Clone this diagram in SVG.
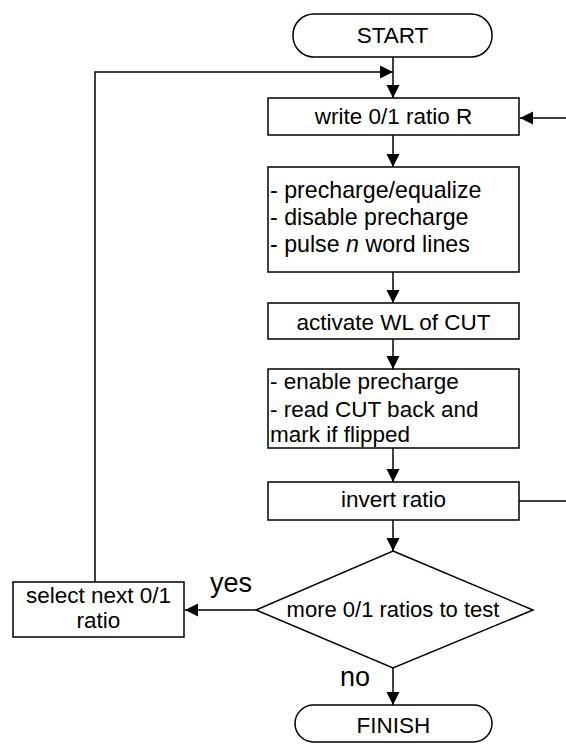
<svg xmlns="http://www.w3.org/2000/svg" width="566" height="744" viewBox="0 0 566 744">
<style>
.shape{fill:#fff;stroke:#000;stroke-width:1.5}
.line{fill:none;stroke:#000;stroke-width:1.5}
text{font-family:"Liberation Sans",Arial,sans-serif;fill:#000}
.t{font-size:22.5px}
.t2{font-size:23.2px}
.c{text-anchor:middle}
.term{font-size:22.5px}
.lbl{font-size:27px}
</style>
<defs>
<marker id="ah" markerUnits="userSpaceOnUse" markerWidth="14" markerHeight="14" viewBox="0 0 14 14" refX="13" refY="7" orient="auto">
<path d="M0,0.5 L13,7 L0,13.5 z" fill="#000"/>
</marker>
</defs>
<g id="connectors">
<line class="line" x1="393" y1="57" x2="393" y2="98" marker-end="url(#ah)"/>
<polyline class="line" points="95,582 95,72 393,72" marker-end="url(#ah)"/>
<line class="line" x1="566" y1="118" x2="520" y2="118" marker-end="url(#ah)"/>
<line class="line" x1="393" y1="135" x2="393" y2="167" marker-end="url(#ah)"/>
<line class="line" x1="393" y1="272" x2="393" y2="303" marker-end="url(#ah)"/>
<line class="line" x1="393" y1="339" x2="393" y2="369" marker-end="url(#ah)"/>
<line class="line" x1="393" y1="448" x2="393" y2="482" marker-end="url(#ah)"/>
<line class="line" x1="519" y1="501" x2="566" y2="501"/>
<line class="line" x1="393" y1="520" x2="393" y2="551" marker-end="url(#ah)"/>
<line class="line" x1="256" y1="610" x2="185" y2="610" marker-end="url(#ah)"/>
<line class="line" x1="393" y1="668" x2="393" y2="705" marker-end="url(#ah)"/>
<text class="lbl" x="210" y="592">yes</text>
<text class="lbl" x="340" y="686">no</text>
</g>
<g id="start">
<rect class="shape" x="293" y="14" width="199" height="43" rx="21" ry="21"/>
<text class="term c" x="392.5" y="43">START</text>
</g>
<g id="write">
<rect class="shape" x="268" y="98" width="251" height="37"/>
<text class="t c" x="393.5" y="124">write 0/1 ratio R</text>
</g>
<g id="precharge">
<rect class="shape" x="268" y="167" width="251" height="105"/>
<text class="t2" x="270" y="198">- precharge/equalize</text>
<text class="t2" x="270" y="225">- disable precharge</text>
<text class="t2" x="270" y="252">- pulse <tspan font-style="italic">n</tspan> word lines</text>
</g>
<g id="activate">
<rect class="shape" x="268" y="303" width="251" height="36"/>
<text class="t c" x="393.5" y="330">activate WL of CUT</text>
</g>
<g id="enable">
<rect class="shape" x="268" y="369" width="251" height="79"/>
<text class="t" x="270" y="389">- enable precharge</text>
<text class="t" x="270" y="417">- read CUT back and</text>
<text class="t" x="270" y="442">mark if flipped</text>
</g>
<g id="invert">
<rect class="shape" x="268" y="482" width="251" height="38"/>
<text class="t c" x="393.5" y="507">invert ratio</text>
</g>
<g id="decision">
<polygon class="shape" points="393,551 533,610 393,668 256,610"/>
<text class="c" font-size="22px" x="393" y="617">more 0/1 ratios to test</text>
</g>
<g id="select">
<rect class="shape" x="13" y="582" width="171" height="55"/>
<text class="t c" x="98.5" y="603">select next 0/1</text>
<text class="t c" x="98.5" y="628">ratio</text>
</g>
<g id="finish">
<rect class="shape" x="295" y="705" width="197" height="37" rx="18.5" ry="18.5"/>
<text class="term c" x="393.5" y="733">FINISH</text>
</g>
</svg>
